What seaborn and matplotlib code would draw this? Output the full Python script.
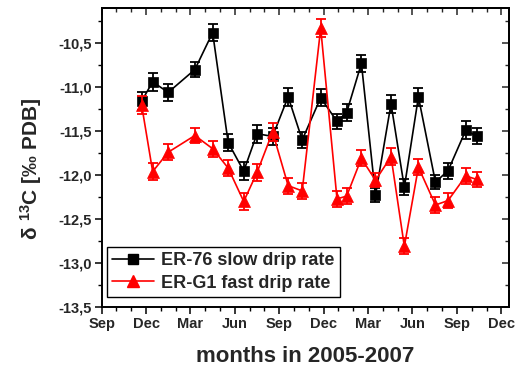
import matplotlib
matplotlib.use("Agg")
import matplotlib.pyplot as plt
import pandas as pd
import seaborn as sns
from matplotlib.lines import Line2D
from matplotlib.ticker import MultipleLocator, FuncFormatter

# sampling dates, in months after 1 September 2005
months = [2.7, 3.45, 4.5, 6.3, 7.5, 8.55, 9.6, 10.5, 11.55, 12.6, 13.55, 14.8,
          15.9, 16.55, 17.55, 18.5, 19.55, 20.45, 21.4, 22.55, 23.4, 24.6, 25.35]

# delta 13C of drip water calcite (permil PDB)
er76 = [-11.16, -10.94, -11.06, -10.80, -10.38, -11.63, -11.955, -11.53, -11.56,
        -11.11, -11.60, -11.12, -11.39, -11.29, -10.73, -12.23, -11.19, -12.14,
        -11.11, -12.08, -11.95, -11.49, -11.56]
erg1 = [-11.20, -11.96, -11.74, -11.55, -11.70, -11.92, -12.30, -11.97, -11.51,
        -12.12, -12.18, -10.33, -12.27, -12.24, -11.81, -12.06, -11.79, -12.81,
        -11.91, -12.34, -12.29, -12.01, -12.05]
er76_err = [0.10, 0.10, 0.10, 0.09, 0.10, 0.10, 0.10, 0.10, 0.10, 0.10, 0.09, 0.10,
            0.09, 0.10, 0.10, 0.08, 0.10, 0.09, 0.10, 0.08, 0.09, 0.10, 0.09]
erg1_err = [0.10, 0.10, 0.09, 0.09, 0.09, 0.09, 0.10, 0.10, 0.10, 0.09, 0.09, 0.10,
            0.09, 0.09, 0.09, 0.08, 0.10, 0.09, 0.09, 0.09, 0.09, 0.09, 0.09]

series_names = ["ER-76 slow drip rate", "ER-G1 fast drip rate"]
series_colors = {"ER-76 slow drip rate": "black", "ER-G1 fast drip rate": "#ff0000"}
series_markers = {"ER-76 slow drip rate": "s", "ER-G1 fast drip rate": "^"}
series_msize = {"ER-76 slow drip rate": 6.5, "ER-G1 fast drip rate": 8.0}

tick_months = [0, 3, 6, 9, 12, 15, 18, 21, 24, 27]
tick_labels = ["Sep", "Dec", "Mar", "Jun", "Sep", "Dec", "Mar", "Jun", "Sep", "Dec"]

df = pd.concat([
    pd.DataFrame({"month": months, "d13C": er76, "err": er76_err,
                  "series": series_names[0]}),
    pd.DataFrame({"month": months, "d13C": erg1, "err": erg1_err,
                  "series": series_names[1]}),
], ignore_index=True)

sns.set_theme(style="ticks")
plt.rcParams["font.family"] = ["Liberation Sans", "DejaVu Sans"]
plt.rcParams["font.weight"] = "bold"
plt.rcParams["mathtext.fontset"] = "custom"
plt.rcParams["mathtext.rm"] = "Liberation Sans"
plt.rcParams["mathtext.bf"] = "Liberation Sans:bold"
plt.rcParams["mathtext.it"] = "Liberation Sans:italic"

fig = plt.figure(figsize=(5.21, 3.71), dpi=100)
ax = fig.add_axes([0.195, 0.1725, 0.782, 0.806])

for name in series_names:
    sub = df[df["series"] == name]
    col = series_colors[name]
    sns.lineplot(data=sub, x="month", y="d13C", ax=ax, color=col,
                 marker=series_markers[name], markersize=series_msize[name],
                 markeredgecolor=col, markeredgewidth=0.5, linewidth=1.2,
                 legend=False, zorder=3)
    ax.errorbar(sub["month"], sub["d13C"], yerr=sub["err"], fmt="none",
                ecolor=col, elinewidth=1.3, capsize=3.4, capthick=1.3, zorder=3)

ax.set_xlim(0, 27.52)
ax.set_ylim(-13.5, -10.1)
ax.set_xticks(tick_months)
ax.set_xticklabels(tick_labels)
ax.xaxis.set_minor_locator(MultipleLocator(1))
ax.yaxis.set_major_locator(MultipleLocator(0.5))
ax.yaxis.set_minor_locator(MultipleLocator(0.25))
ax.yaxis.set_major_formatter(FuncFormatter(lambda v, p: f"{v:.1f}".replace(".", ",")))

for lbl in ax.get_xticklabels() + ax.get_yticklabels():
    lbl.set_fontweight("bold")
ax.tick_params(axis="both", which="major", labelsize=10.5, length=5, width=1.1,
               color="black", pad=2)
ax.tick_params(axis="both", which="minor", length=3, width=1.0, color="black")
ax.tick_params(axis="x", which="both", direction="out", top=False)
ax.tick_params(axis="y", which="both", direction="out", right=False)

# inward ticks mirrored on top and right
axt = ax.secondary_xaxis("top")
axt.set_xticks(tick_months)
axt.xaxis.set_minor_locator(MultipleLocator(1))
axt.tick_params(which="major", direction="in", length=5, width=1.1, labeltop=False)
axt.tick_params(which="minor", direction="in", length=3, width=1.0)
axt.set_xticklabels([])
axr = ax.secondary_yaxis("right")
axr.yaxis.set_major_locator(MultipleLocator(0.5))
axr.yaxis.set_minor_locator(MultipleLocator(0.25))
axr.tick_params(which="major", direction="in", length=5, width=1.1, labelright=False)
axr.tick_params(which="minor", direction="in", length=3, width=1.0)
axr.set_yticklabels([])

for sp in list(ax.spines.values()):
    sp.set_linewidth(1.4)
    sp.set_color("black")
axt.spines["top"].set_linewidth(1.4)
axr.spines["right"].set_linewidth(1.4)

ax.set_xlabel("")
ax.set_ylabel("")
fig.text(305 / 521, 1 - 356 / 371, "months in 2005-2007", ha="center",
         va="center", fontsize=16, fontweight="bold")
fig.text(31 / 521, 1 - 169 / 371, r"$\mathrm{δ}\ ^{\mathbf{13}}$C [‰ PDB]",
         ha="center", va="center", rotation=90, fontsize=15, fontweight="bold")

handles = [Line2D([], [], color=series_colors[n], marker=series_markers[n],
                  markersize=series_msize[n], markeredgecolor=series_colors[n],
                  linewidth=1.2) for n in series_names]
leg = ax.legend(handles, series_names, loc="lower left",
                bbox_to_anchor=(0.013, 0.033), borderaxespad=0, fancybox=False,
                framealpha=1, edgecolor="black", handlelength=2.3,
                handletextpad=0.4, borderpad=0.3, labelspacing=0.3,
                prop={"weight": "bold", "size": 13})
leg.get_frame().set_linewidth(1.0)

fig.savefig("out.png", dpi=100)
